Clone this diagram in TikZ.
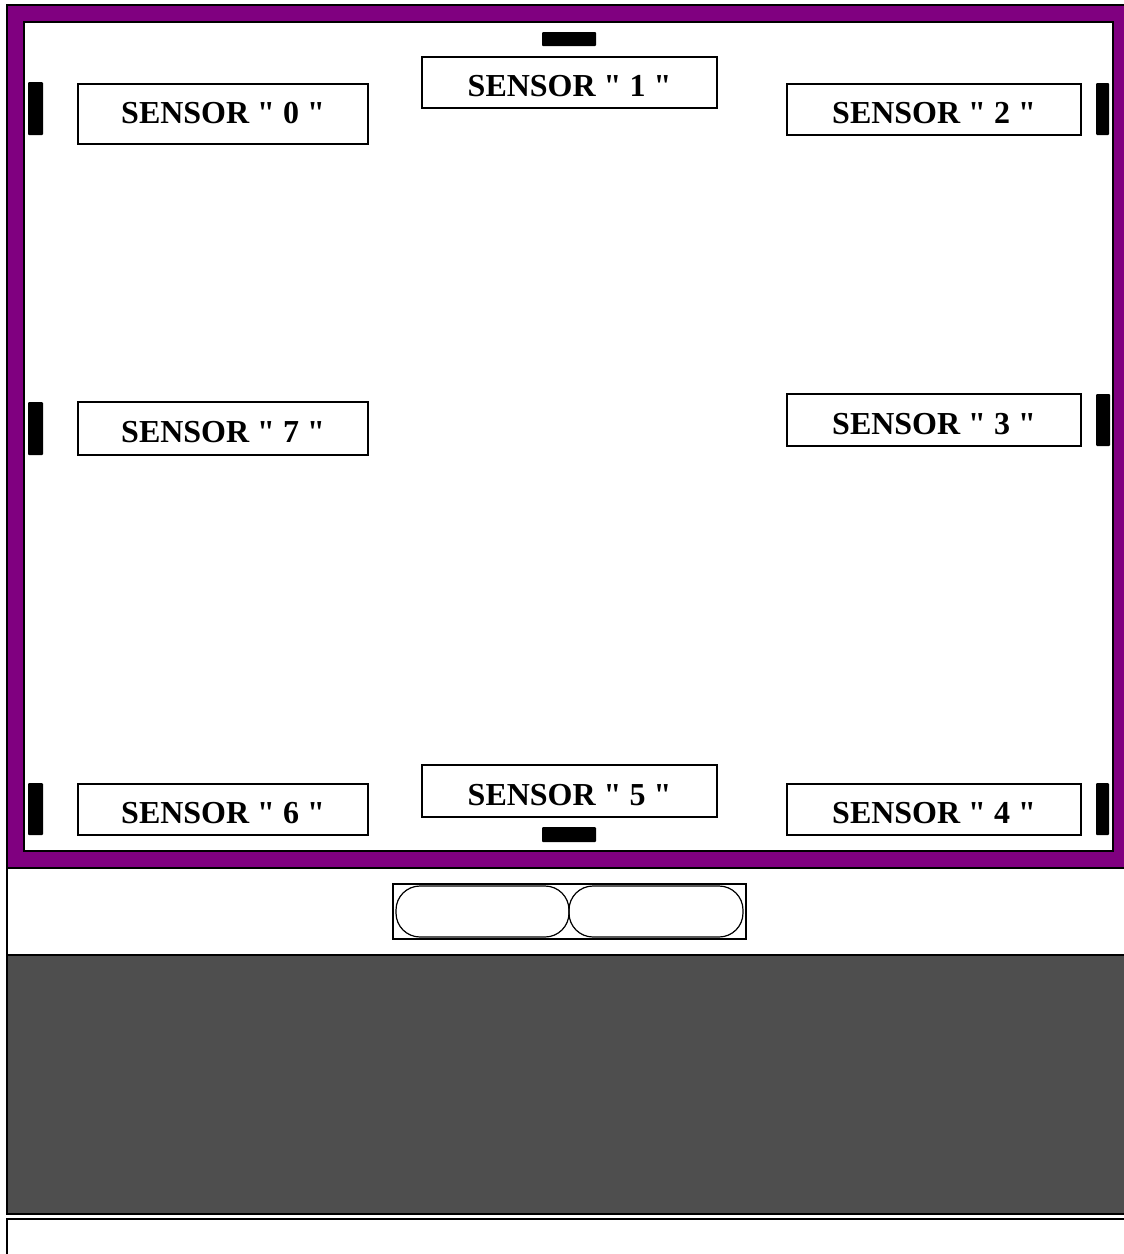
\documentclass[tikz,border=0pt]{standalone}
\usepackage{fontspec}
\setmainfont{Liberation Serif}[Ligatures=TeXOff]
\definecolor{framepurple}{RGB}{128,0,128}
\definecolor{darkpanel}{RGB}{78,78,78}
\begin{document}
\begin{tikzpicture}[x=1pt,y=-1pt,
  sensorbox/.style={draw=black,line width=1.3pt,fill=white,inner sep=0pt,
    text height=28pt,text depth=0pt,
    font=\fontsize{32}{32}\selectfont\bfseries},
  bar/.style={fill=black,rounded corners=1pt},
  pill/.style={draw=black,line width=1.2pt,rounded corners=24pt}]
\useasboundingbox (0,0) rectangle (1124,1254);
\clip (0,0) rectangle (1124,1254);
% purple frame
\draw[fill=framepurple,line width=1.2pt] (7,5) rectangle (1140,868);
\draw[fill=white,line width=1.2pt] (24,22) rectangle (1113,851);
% lower panels
\draw[line width=1.2pt] (7,868) -- (7,955);
\draw[fill=darkpanel,line width=1.5pt] (7,955) rectangle (1140,1214);
\draw[fill=white,line width=1.5pt] (7,1219) rectangle (1140,1270);
% sensors
\node[sensorbox,text height=18pt,minimum width=290pt,minimum height=60pt] (s0) at (223,114) {SENSOR " 0 "};
\node[sensorbox,minimum width=295pt,minimum height=51pt] (s1) at (569.5,82.5) {SENSOR " 1 "};
\node[sensorbox,minimum width=294pt,minimum height=51pt] (s2) at (934,109.5) {SENSOR " 2 "};
\node[sensorbox,minimum width=294pt,minimum height=52pt] (s3) at (934,420) {SENSOR " 3 "};
\node[sensorbox,minimum width=294pt,minimum height=51pt] (s4) at (934,809.5) {SENSOR " 4 "};
\node[sensorbox,minimum width=295pt,minimum height=52pt] (s5) at (569.5,791) {SENSOR " 5 "};
\node[sensorbox,minimum width=290pt,minimum height=51pt] (s6) at (223,809.5) {SENSOR " 6 "};
\node[sensorbox,minimum width=290pt,minimum height=53pt] (s7) at (223,428.5) {SENSOR " 7 "};
% bars
\fill[bar] (28,82) rectangle (43,135);
\fill[bar] (542,32) rectangle (596,46);
\fill[bar] (1096,83) rectangle (1109,135);
\fill[bar] (1096,394) rectangle (1110,446);
\fill[bar] (1096,783) rectangle (1109,835);
\fill[bar] (542,827) rectangle (596,842);
\fill[bar] (28,783) rectangle (43,835);
\fill[bar] (28,402) rectangle (43,455);
% bottom component
\draw[line width=1.2pt] (393,884) rectangle (746,939);
\draw[pill] (396,886) rectangle (569,937);
\draw[pill] (569,886) rectangle (743,937);
\end{tikzpicture}
\end{document}
